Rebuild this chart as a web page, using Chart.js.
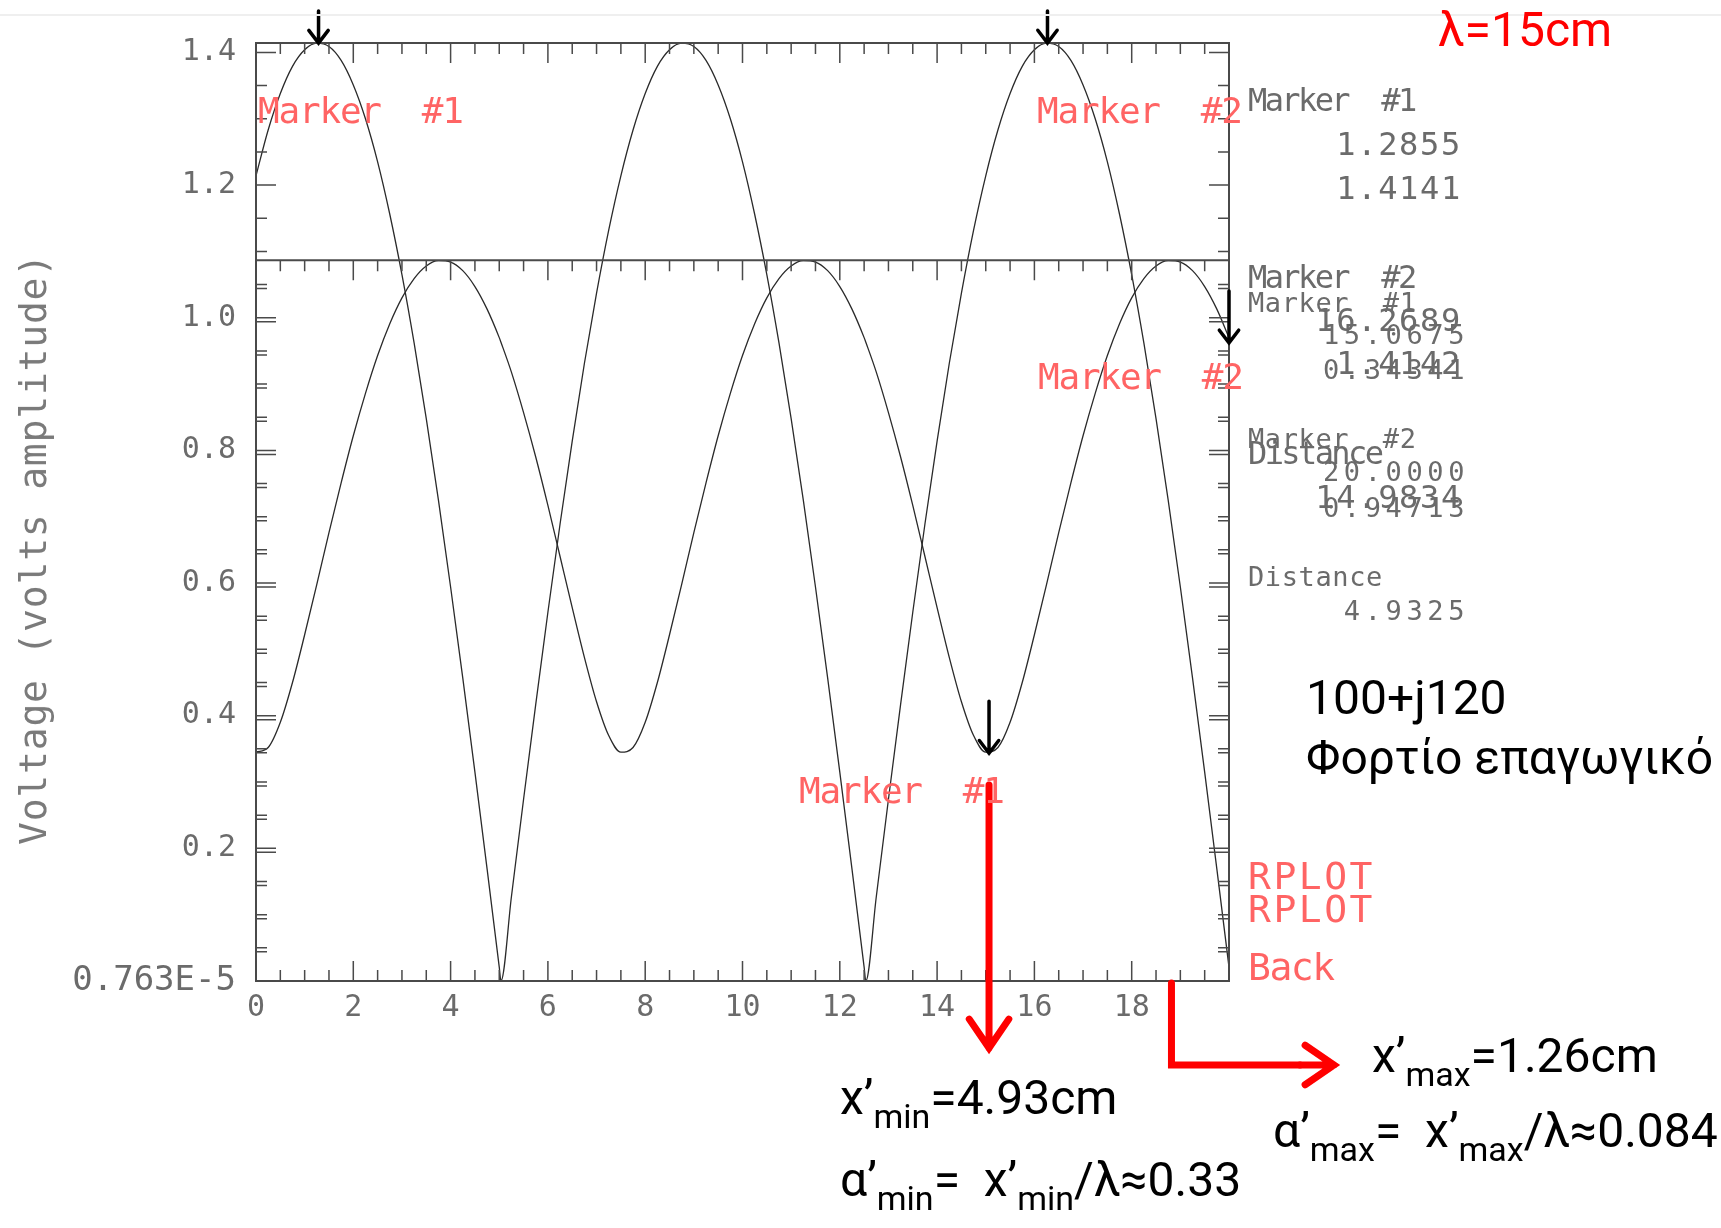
<!DOCTYPE html>
<html>
<head>
<meta charset="utf-8">
<script src="https://cdn.jsdelivr.net/npm/chart.js@4.4.1/dist/chart.umd.min.js"></script>
<style>
body { margin: 0; background: #fff; }
#wrap { position: relative; width: 1721px; height: 1228px; overflow: hidden; }
#wrap canvas { position: absolute; left: 0; top: 0; }
.t { position: absolute; white-space: pre; line-height: 1; }
.mono { font-family: "DejaVu Sans Mono", monospace; }
.g1 { color: #6b6b6b; font-size: 32px; }
.g2 { color: #6b6b6b; font-size: 27px; }
.lab1 { letter-spacing: -2.6px; }
.num1 { letter-spacing: 1.7px; }
.lab2 { letter-spacing: 0.6px; }
.num2 { letter-spacing: 4.6px; }
.red { color: #ff6464; }
.rm { font-size: 36px; letter-spacing: -1.2px; }
.rp { font-size: 38px; letter-spacing: 2.5px; }
.big { font-family: Roboto, "Noto Sans", sans-serif; font-size: 48px; color: #000; }
.big sub { font-size: 34px; vertical-align: -14px; line-height: 1; }
#ytitle { left: 33px; top: 549px; transform: translate(-50%, -50%) rotate(-90deg);
  font-size: 38px; color: #7a7a7a; letter-spacing: 0.8px; }
#topline { position: absolute; left: 0; top: 14px; width: 1721px; height: 2px; background: #efefef; }
</style>
</head>
<body>
<div id="wrap">
  <canvas id="chart"></canvas>
  <div id="topline"></div>
  <div id="ytitle" class="t mono">Voltage (volts amplitude)</div>

  <!-- marker read-outs, first plot -->
  <div class="t mono g1 lab1" style="left:1248px; top:84px;">Marker  #1</div>
  <div class="t mono g1 num1" style="right:259px; top:128px;">1.2855</div>
  <div class="t mono g1 num1" style="right:259px; top:172px;">1.4141</div>
  <div class="t mono g1 lab1" style="left:1248px; top:261px;">Marker  #2</div>
  <div class="t mono g1 num1" style="right:259px; top:304px;">16.2689</div>
  <div class="t mono g1 num1" style="right:259px; top:347px;">1.4142</div>
  <div class="t mono g1 lab1" style="left:1248px; top:437px;">Distance</div>
  <div class="t mono g1 num1" style="right:259px; top:481px;">14.9834</div>

  <!-- marker read-outs, second plot -->
  <div class="t mono g2 lab2" style="left:1248px; top:289px;">Marker  #1</div>
  <div class="t mono g2 num2" style="right:252px; top:321px;">15.0675</div>
  <div class="t mono g2 num2" style="right:252px; top:356px;">0.34341</div>
  <div class="t mono g2 lab2" style="left:1248px; top:425px;">Marker  #2</div>
  <div class="t mono g2 num2" style="right:252px; top:458px;">20.0000</div>
  <div class="t mono g2 num2" style="right:252px; top:494px;">0.94713</div>
  <div class="t mono g2 lab2" style="left:1248px; top:563px;">Distance</div>
  <div class="t mono g2 num2" style="right:252px; top:597px;">4.9325</div>

  <!-- red labels -->
  <div class="t mono red rm" style="left:258px; top:93px;">Marker  #1</div>
  <div class="t mono red rm" style="left:1037px; top:93px;">Marker  #2</div>
  <div class="t mono red rm" style="left:1038px; top:359px;">Marker  #2</div>
  <div class="t mono red rm" style="left:799px; top:773px;">Marker  #1</div>
  <div class="t mono red rp" style="left:1248px; top:857px;">RPLOT</div>
  <div class="t mono red rp" style="left:1248px; top:890px;">RPLOT</div>
  <div class="t mono red rp" style="left:1248px; top:948px; letter-spacing:-1.5px;">Back</div>

  <!-- notes -->
  <div class="t big" style="left:1438px; top:6px; color:#ff0000;">λ=15cm</div>
  <div class="t big" style="left:1306px; top:674px;">100+j120</div>
  <div class="t big" style="left:1306px; top:734px;">Φορτίο επαγωγικό</div>
  <div class="t big" style="left:1372px; top:1032px;">x’<sub>max</sub>=1.26cm</div>
  <div class="t big" style="left:1273px; top:1107px;">α’<sub>max</sub>=  x’<sub>max</sub>/λ≈0.084</div>
  <div class="t big" style="left:840px; top:1074px;">x’<sub>min</sub>=4.93cm</div>
  <div class="t big" style="left:840px; top:1156px;">α’<sub>min</sub>=  x’<sub>min</sub>/λ≈0.33</div>
</div>

<script>
// distance along the line (cm)
const xValues = [0, 0.25, 0.5, 0.75, 1, 1.25, 1.5, 1.75, 2, 2.25, 2.5, 2.75, 3, 3.25, 3.5, 3.75,
    4, 4.25, 4.5, 4.75, 5, 5.035, 5.25, 5.5, 5.75, 6, 6.25, 6.5, 6.75, 7, 7.25,
    7.5, 7.75, 8, 8.25, 8.5, 8.75, 9, 9.25, 9.5, 9.75, 10, 10.25, 10.5, 10.75, 11, 11.25,
    11.5, 11.75, 12, 12.25, 12.5, 12.535, 12.75, 13, 13.25, 13.5, 13.75, 14, 14.25, 14.5, 14.75,
    15, 15.25, 15.5, 15.75, 16, 16.25, 16.5, 16.75, 17, 17.25, 17.5, 17.75, 18, 18.25,
    18.5, 18.75, 19, 19.25, 19.5, 19.75, 20];

// first trace (max 1.4142, nulls to zero)
const voltA = [1.214, 1.283, 1.338, 1.379, 1.404, 1.414, 1.409, 1.388, 1.351, 1.300, 1.235, 1.156,
    1.065, 0.962, 0.848, 0.725, 0.594, 0.457, 0.315, 0.169, 0.021, 0.000,
    0.127, 0.274, 0.417, 0.556, 0.689, 0.814, 0.931, 1.037, 1.132,
    1.214, 1.283, 1.338, 1.379, 1.404, 1.414, 1.409, 1.388, 1.351, 1.300, 1.235, 1.156,
    1.065, 0.962, 0.848, 0.725, 0.594, 0.457, 0.315, 0.169, 0.021, 0.000,
    0.127, 0.274, 0.417, 0.556, 0.689, 0.814, 0.931, 1.037, 1.132,
    1.214, 1.283, 1.338, 1.379, 1.404, 1.414, 1.409, 1.388, 1.351, 1.300, 1.235, 1.156,
    1.065, 0.962, 0.848, 0.725, 0.594, 0.457, 0.315, 0.169, 0.021];

// second trace, 100+j120 load (max 1.0866, min 0.3434)
const voltB = [0.345, 0.352, 0.390, 0.450, 0.522, 0.598, 0.676, 0.751, 0.822, 0.886, 0.943, 0.991,
    1.030, 1.059, 1.078, 1.086, 1.084, 1.071, 1.047, 1.013, 0.970, 0.963,
    0.918, 0.857, 0.790, 0.717, 0.640, 0.563, 0.488, 0.421, 0.370,
    0.345, 0.352, 0.390, 0.450, 0.522, 0.598, 0.676, 0.751, 0.822, 0.886, 0.943, 0.991,
    1.030, 1.059, 1.078, 1.086, 1.084, 1.071, 1.047, 1.013, 0.970, 0.963,
    0.918, 0.857, 0.790, 0.717, 0.640, 0.563, 0.488, 0.421, 0.370,
    0.345, 0.352, 0.390, 0.450, 0.522, 0.598, 0.676, 0.751, 0.822, 0.886, 0.943, 0.991,
    1.030, 1.059, 1.078, 1.086, 1.084, 1.071, 1.047, 1.013, 0.970];

const xTickValues = [0, 2, 4, 6, 8, 10, 12, 14, 16, 18];
const xTickLabels = ['0', '2', '4', '6', '8', '10', '12', '14', '16', '18'];
const yTickValues = [0, 0.2, 0.4, 0.6, 0.8, 1.0, 1.2, 1.4];
const yTickLabels = ['0.763E-5', '0.2', '0.4', '0.6', '0.8', '1.0', '1.2', '1.4'];

// markers: 1st plot #1, #2, 2nd plot #1, #2
const markerX = [1.2855, 16.2689, 15.0675, 20.0];
const markerY = [1.4141, 1.4142, 0.3434, 0.962];
const plot2Top = 1.0866;
const plot2PeakX = 18.8175;

function arrow(ctx, x1, y1, x2, y2, head, spread) {
    const ang = Math.atan2(y2 - y1, x2 - x1);
    ctx.beginPath();
    ctx.moveTo(x1, y1);
    ctx.lineTo(x2, y2);
    ctx.moveTo(x2 - head * Math.cos(ang - spread), y2 - head * Math.sin(ang - spread));
    ctx.lineTo(x2, y2);
    ctx.lineTo(x2 - head * Math.cos(ang + spread), y2 - head * Math.sin(ang + spread));
    ctx.stroke();
}

const framePlugin = {
    id: 'frame',
    afterDatasetsDraw(chart) {
        const ctx = chart.ctx;
        const a = chart.chartArea;
        const xs = chart.scales.x, ys = chart.scales.y;
        ctx.save();
        ctx.strokeStyle = '#4a4a4a';
        ctx.lineWidth = 2;
        ctx.strokeRect(a.left, a.top, a.right - a.left, a.bottom - a.top);
        const y2 = ys.getPixelForValue(plot2Top);
        ctx.beginPath();
        ctx.moveTo(a.left, y2);
        ctx.lineTo(a.right, y2);
        ctx.stroke();

        // tick marks pointing into the frame
        ctx.lineWidth = 1.5;
        ctx.beginPath();
        for (let i = 0; i <= 40; i++) {
            const px = xs.getPixelForValue(i * 0.5);
            const len = i % 4 === 0 ? 20 : 11;
            ctx.moveTo(px, a.bottom); ctx.lineTo(px, a.bottom - len);
            ctx.moveTo(px, a.top); ctx.lineTo(px, a.top + len);
            ctx.moveTo(px, y2); ctx.lineTo(px, y2 + len);
        }
        for (let i = 0; i <= 28; i++) {
            const v = i * 0.05;
            const py = ys.getPixelForValue(v);
            const len = i % 4 === 0 ? 20 : 11;
            ctx.moveTo(a.left, py); ctx.lineTo(a.left + len, py);
            ctx.moveTo(a.right, py); ctx.lineTo(a.right - len, py);
            if (v < plot2Top && i > 0) {
                ctx.moveTo(a.left, py + 4); ctx.lineTo(a.left + len, py + 4);
                ctx.moveTo(a.right, py + 4); ctx.lineTo(a.right - len, py + 4);
            }
        }
        ctx.stroke();

        // black marker arrows
        ctx.strokeStyle = '#000';
        ctx.lineWidth = 3.5;
        ctx.lineCap = 'round';
        for (let i = 0; i < markerX.length; i++) {
            const px = xs.getPixelForValue(markerX[i]);
            const py = ys.getPixelForValue(markerY[i]);
            const len = i < 2 ? 32 : 52;
            arrow(ctx, px, py - len, px, py, 16, 0.65);
        }

        // red arrows
        ctx.strokeStyle = '#ff0000';
        ctx.lineWidth = 7;
        ctx.lineJoin = 'miter';
        const xa = xs.getPixelForValue(markerX[2]);
        arrow(ctx, xa, 785, xa, 1048, 35, 0.6);
        const xb = xs.getPixelForValue(plot2PeakX);
        ctx.beginPath();
        ctx.moveTo(xb, a.bottom + 2);
        ctx.lineTo(xb, 1065);
        ctx.lineTo(1300, 1065);
        ctx.stroke();
        arrow(ctx, 1300, 1065, 1334, 1065, 35, 0.6);
        ctx.restore();
    }
};

const tickFont = { family: 'DejaVu Sans Mono', size: 30 };

new Chart(document.getElementById('chart'), {
    type: 'line',
    data: {
        datasets: [{
            data: xValues.map((x, i) => ({ x: x, y: voltA[i] })),
            borderColor: '#2a2a2a',
            borderWidth: 1.3,
            pointRadius: 0,
            cubicInterpolationMode: 'monotone'
        }, {
            data: xValues.map((x, i) => ({ x: x, y: voltB[i] })),
            borderColor: '#2a2a2a',
            borderWidth: 1.3,
            pointRadius: 0,
            cubicInterpolationMode: 'monotone'
        }]
    },
    options: {
        animation: false,
        responsive: true,
        maintainAspectRatio: false,
        layout: { padding: { left: 16, right: 492, top: 43, bottom: 0 } },
        plugins: { legend: { display: false }, tooltip: { enabled: false } },
        scales: {
            x: {
                type: 'linear', min: 0, max: 20,
                grid: { display: false }, border: { display: false },
                afterBuildTicks: s => { s.ticks = xTickValues.map(v => ({ value: v })); },
                afterFit: s => { s.height = 247; },
                ticks: {
                    autoSkip: false, maxRotation: 0, minRotation: 0, padding: 1,
                    color: '#6b6b6b', font: tickFont,
                    callback: v => xTickLabels[xTickValues.indexOf(v)]
                }
            },
            y: {
                type: 'linear', min: 0, max: 1.4142,
                grid: { display: false }, border: { display: false },
                afterBuildTicks: s => { s.ticks = yTickValues.map(v => ({ value: v })); },
                afterFit: s => { s.width = 240; },
                ticks: {
                    autoSkip: false, padding: 12,
                    color: '#6b6b6b',
                    font: c => ({ family: 'DejaVu Sans Mono', size: c.index === 0 ? 34 : 30 }),
                    callback: v => yTickLabels[yTickValues.indexOf(v)]
                }
            }
        }
    },
    plugins: [framePlugin]
});
</script>
</body>
</html>
